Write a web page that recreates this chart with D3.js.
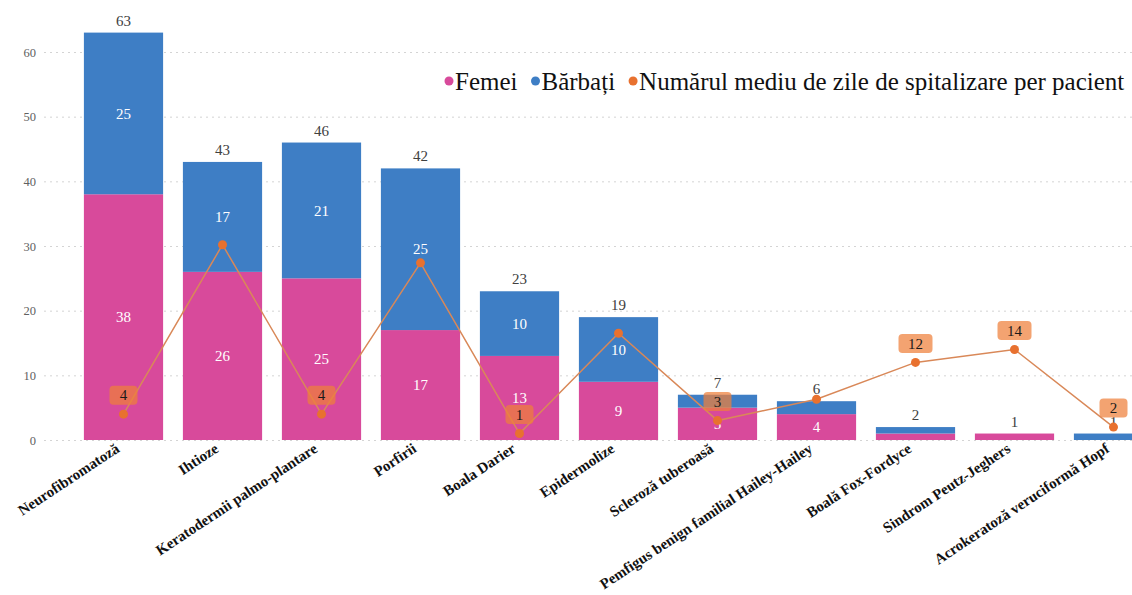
<!DOCTYPE html>
<html>
<head>
<meta charset="utf-8">
<script src="https://cdn.jsdelivr.net/npm/d3@7/dist/d3.min.js"></script>
<style>
  html, body { margin: 0; padding: 0; background: #ffffff; }
  svg { display: block; }
</style>
</head>
<body>
<svg id="chart" width="1132" height="595"></svg>
<script>
// Rare genodermatoses: patients by sex and mean length of hospital stay
const categories = [
  "Neurofibromatoză", "Ihtioze", "Keratodermii palmo-plantare", "Porfirii",
  "Boala Darier", "Epidermolize", "Scleroză tuberoasă",
  "Pemfigus benign familial Hailey-Hailey", "Boală Fox-Fordyce",
  "Sindrom Peutz-Jeghers", "Acrokeratoză veruciformă Hopf"
];
const femei   = [38, 26, 25, 17, 13, 9, 5, 4, 1, 1, 0];
const barbati = [25, 17, 21, 25, 10, 10, 2, 2, 1, 0, 1];
const zileMedii = [4, 30.2, 4, 27.4, 1, 16.5, 3, 6.3, 12, 14, 2];
const zileEtichetate = [true, false, true, false, true, false, true, false, true, true, true];
const yTicks = [0, 10, 20, 30, 40, 50, 60];
const legendItems = ["Femei", "Bărbați", "Numărul mediu de zile de spitalizare per pacient"];

const colors = { femei: "#D84A9B", barbati: "#3E7EC5", line: "#D98858", point: "#E8712F", badge: "#EE7F3A" };
const serif = "'Liberation Serif', 'Times New Roman', serif";

const svg = d3.select("#chart");

const x = d3.scaleBand().domain(categories).range([74, 1163]).paddingInner(0.2).paddingOuter(0.1);
const y = d3.scaleLinear().domain([0, 60]).range([440, 52]);

// gridlines + y tick labels
const yAxis = d3.axisLeft(y).tickValues(yTicks).tickSize(-1100).tickPadding(8);
const gy = svg.append("g").attr("transform", "translate(44,0)").call(yAxis);
gy.select(".domain").remove();
gy.selectAll(".tick line").attr("stroke", "#d4d4d4").attr("stroke-width", 1).attr("stroke-dasharray", "2,4");
gy.selectAll(".tick text").attr("font-family", serif).attr("font-size", 12.5).attr("fill", "#606060");

// stacked bars
const rows = categories.map((c, i) => ({ cat: c, femei: femei[i], barbati: barbati[i] }));
const stack = d3.stack().keys(["femei", "barbati"])(rows);

const layers = svg.append("g").selectAll("g").data(stack).join("g")
  .attr("fill", d => colors[d.key]);
layers.selectAll("rect").data(d => d).join("rect")
  .attr("x", d => x(d.data.cat))
  .attr("width", x.bandwidth())
  .attr("y", d => y(d[1]))
  .attr("height", d => y(d[0]) - y(d[1]));

// segment values (only where the segment is tall enough)
svg.append("g").selectAll("g").data(stack).join("g")
  .selectAll("text").data(d => d.filter(s => s[1] - s[0] >= 4)).join("text")
  .attr("x", d => x(d.data.cat) + x.bandwidth() / 2)
  .attr("y", d => y((d[0] + d[1]) / 2))
  .attr("dy", "0.35em")
  .attr("text-anchor", "middle")
  .attr("font-family", serif).attr("font-size", 15)
  .attr("fill", "#ffffff")
  .text(d => d[1] - d[0]);

// totals above bars
svg.append("g").selectAll("text").data(rows).join("text")
  .attr("x", d => x(d.cat) + x.bandwidth() / 2)
  .attr("y", d => y(d.femei + d.barbati) - 7)
  .attr("text-anchor", "middle")
  .attr("font-family", serif).attr("font-size", 15)
  .attr("fill", "#404040")
  .text(d => d.femei + d.barbati);

// mean hospital stay line
const pts = categories.map((c, i) => ({ cat: c, v: zileMedii[i], lab: zileEtichetate[i] }));
const cx = d => x(d.cat) + x.bandwidth() / 2;
svg.append("path").datum(pts)
  .attr("fill", "none").attr("stroke", colors.line).attr("stroke-width", 1.5)
  .attr("d", d3.line().x(cx).y(d => y(d.v)));
svg.append("g").selectAll("circle").data(pts).join("circle")
  .attr("cx", cx).attr("cy", d => y(d.v)).attr("r", 4.5)
  .attr("fill", colors.point);

// value badges for the line
const badges = svg.append("g").selectAll("g").data(pts.filter(d => d.lab)).join("g")
  .attr("transform", d => `translate(${cx(d)},${y(d.v) - 19})`);
badges.append("rect")
  .attr("x", d => String(d.v).length > 1 ? -17 : -14)
  .attr("width", d => String(d.v).length > 1 ? 34 : 28)
  .attr("y", -9.5).attr("height", 19).attr("rx", 4)
  .attr("fill", colors.badge).attr("fill-opacity", 0.72);
badges.append("text")
  .attr("text-anchor", "middle").attr("dy", "0.35em")
  .attr("font-family", serif).attr("font-size", 15).attr("fill", "#1a1a1a")
  .text(d => d.v);

// category labels
svg.append("g").selectAll("text").data(categories).join("text")
  .attr("transform", c => `translate(${x(c) + x.bandwidth() / 2 - 3},${451}) rotate(-33.5)`)
  .attr("text-anchor", "end")
  .attr("font-family", serif).attr("font-size", 15).attr("font-weight", "bold")
  .attr("fill", "#111111")
  .text(c => c);

// legend
const legend = svg.append("g").attr("transform", "translate(449,81)");
const legendColors = [colors.femei, colors.barbati, colors.point];
let lx = 0;
legendItems.forEach((name, i) => {
  const g = legend.append("g").attr("transform", `translate(${lx},0)`);
  g.append("circle").attr("r", 4.5).attr("fill", legendColors[i]);
  const t = g.append("text").attr("x", 6).attr("dy", "0.35em")
    .attr("font-family", serif).attr("font-size", 25).attr("fill", "#111111")
    .text(name);
  lx += 6 + t.node().getComputedTextLength() + 18;
});
</script>
</body>
</html>
